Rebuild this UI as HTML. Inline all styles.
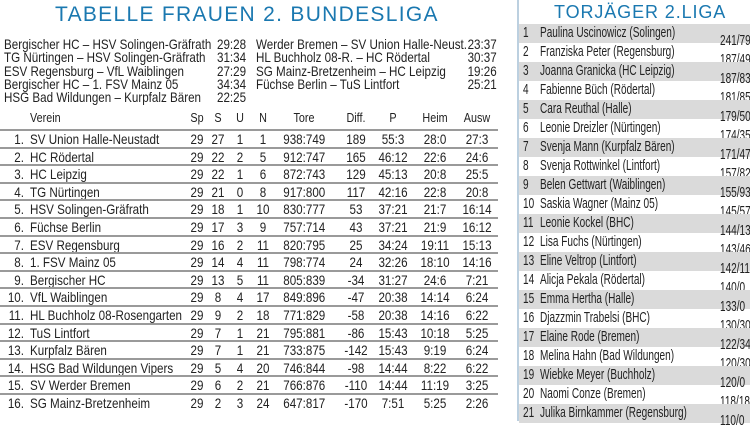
<!DOCTYPE html><html><head><meta charset="utf-8"><style>
body{margin:0;width:750px;height:421px;background:#fff;overflow:hidden;position:relative;font-family:"Liberation Sans",sans-serif;color:#222}
.t{position:absolute;white-space:nowrap}
.title{font-size:21px;color:#1a78b0;letter-spacing:1.3px}
.res{font-size:14px;line-height:13.3px;transform:scaleX(0.83);transform-origin:left top}
.row{position:absolute;left:0;width:498px;height:17.6px;border-top:2px solid #9a9a9a;box-sizing:border-box}
.c{position:absolute;font-size:14px;top:0px;text-align:center;white-space:nowrap;transform:scaleX(0.83)}
.n{transform-origin:left top}
#r{position:absolute;left:517px;top:0;width:233px;height:421px;border-left:2px solid #bcd0e0}
.rr{position:absolute;left:0;width:233px;height:19px;font-size:15px}
.g{background:#dadada}
.sx{transform:scaleX(0.67);transform-origin:left top}
</style></head><body>
<div class="t title" style="left:55px;top:3px">TABELLE FRAUEN 2. BUNDESLIGA</div>
<div class="t res" style="left:4px;top:38px">Bergischer HC – HSV Solingen-Gräfrath<br>TG Nürtingen – HSV Solingen-Gräfrath<br>ESV Regensburg – VfL Waiblingen<br>Bergischer HC – 1. FSV Mainz 05<br>HSG Bad Wildungen – Kurpfalz Bären</div>
<div class="t res" style="left:217px;top:38px">29:28<br>31:34<br>27:29<br>34:34<br>22:25</div>
<div class="t res" style="left:256px;top:38px">Werder Bremen – SV Union Halle-Neust.<br>HL Buchholz 08-R. – HC Rödertal<br>SG Mainz-Bretzenheim – HC Leipzig<br>Füchse Berlin – TuS Lintfort</div>
<div class="t res" style="left:456px;top:38px;text-align:right;width:49px">23:37<br>30:37<br>19:26<br>25:21</div>
<div id="tbl"></div>
<div id="r"><div class="t title" style="left:35px;top:2px;font-size:18px;letter-spacing:0.9px">TORJÄGER 2.LIGA</div></div>
<script>
const rows=[["1.","SV Union Halle-Neustadt",29,27,1,1,"938:749",189,"55:3","28:0","27:3"],["2.","HC Rödertal",29,22,2,5,"912:747",165,"46:12","22:6","24:6"],["3.","HC Leipzig",29,22,1,6,"872:743",129,"45:13","20:8","25:5"],["4.","TG Nürtingen",29,21,0,8,"917:800",117,"42:16","22:8","20:8"],["5.","HSV Solingen-Gräfrath",29,18,1,10,"830:777",53,"37:21","21:7","16:14"],["6.","Füchse Berlin",29,17,3,9,"757:714",43,"37:21","21:9","16:12"],["7.","ESV Regensburg",29,16,2,11,"820:795",25,"34:24","19:11","15:13"],["8.","1. FSV Mainz 05",29,14,4,11,"798:774",24,"32:26","18:10","14:16"],["9.","Bergischer HC",29,13,5,11,"805:839",-34,"31:27","24:6","7:21"],["10.","VfL Waiblingen",29,8,4,17,"849:896",-47,"20:38","14:14","6:24"],["11.","HL Buchholz 08-Rosengarten",29,9,2,18,"771:829",-58,"20:38","14:16","6:22"],["12.","TuS Lintfort",29,7,1,21,"795:881",-86,"15:43","10:18","5:25"],["13.","Kurpfalz Bären",29,7,1,21,"733:875",-142,"15:43","9:19","6:24"],["14.","HSG Bad Wildungen Vipers",29,5,4,20,"746:844",-98,"14:44","8:22","6:22"],["15.","SV Werder Bremen",29,6,2,21,"766:876",-110,"14:44","11:19","3:25"],["16.","SG Mainz-Bretzenheim",29,2,3,24,"647:817",-170,"7:51","5:25","2:26"]];
const cx=[197,218,240,263,304,356,393,435,477];
let h='<div class="c n" style="left:30px;top:110px;font-size:13px">Verein</div>';
["Sp","S","U","N","Tore","Diff.","P","Heim","Ausw"].forEach((s,i)=>h+=`<div class="c" style="left:${cx[i]-25}px;width:50px;top:110px;font-size:13px">${s}</div>`);
rows.forEach((r,k)=>{let y=129+k*17.6;h+=`<div class="row" style="top:${y}px"><div class="c" style="left:0;width:24px;text-align:right;transform-origin:right top">${r[0]}</div><div class="c n" style="left:30px;text-align:left">${r[1]}</div>`;
for(let i=0;i<9;i++)h+=`<div class="c" style="left:${cx[i]-25}px;width:50px">${r[i+2]}</div>`;h+='</div>';});
document.getElementById('tbl').innerHTML=h;
const s=[["Paulina Uscinowicz (Solingen)","241/79"],["Franziska Peter (Regensburg)","187/49"],["Joanna Granicka (HC Leipzig)","187/83"],["Fabienne Büch (Rödertal)","181/85"],["Cara Reuthal (Halle)","179/50"],["Leonie Dreizler (Nürtingen)","174/35"],["Svenja Mann (Kurpfalz Bären)","171/47"],["Svenja Rottwinkel (Lintfort)","157/82"],["Belen Gettwart (Waiblingen)","155/93"],["Saskia Wagner (Mainz 05)","145/57"],["Leonie Kockel (BHC)","144/13"],["Lisa Fuchs (Nürtingen)","143/46"],["Eline Veltrop (Lintfort)","142/11"],["Alicja Pekala (Rödertal)","140/0"],["Emma Hertha (Halle)","133/0"],["Djazzmin Trabelsi (BHC)","130/30"],["Elaine Rode (Bremen)","122/34"],["Melina Hahn (Bad Wildungen)","120/30"],["Wiebke Meyer (Buchholz)","120/0"],["Naomi Conze (Bremen)","118/18"],["Julika Birnkammer (Regensburg)","110/0"]];
let g='';s.forEach((v,k)=>{let y=24+k*19;g+=`<div class="rr ${k%2==0?'g':''}" style="top:${y}px"><span class="t sx" style="left:4px;top:0px">${k+1}</span><span class="t sx" style="left:21px;top:0px">${v[0]}</span><span class="t sx" style="left:201px;top:8px">${v[1]}</span></div>`});
document.getElementById('r').insertAdjacentHTML('beforeend',g);
</script></body></html>
